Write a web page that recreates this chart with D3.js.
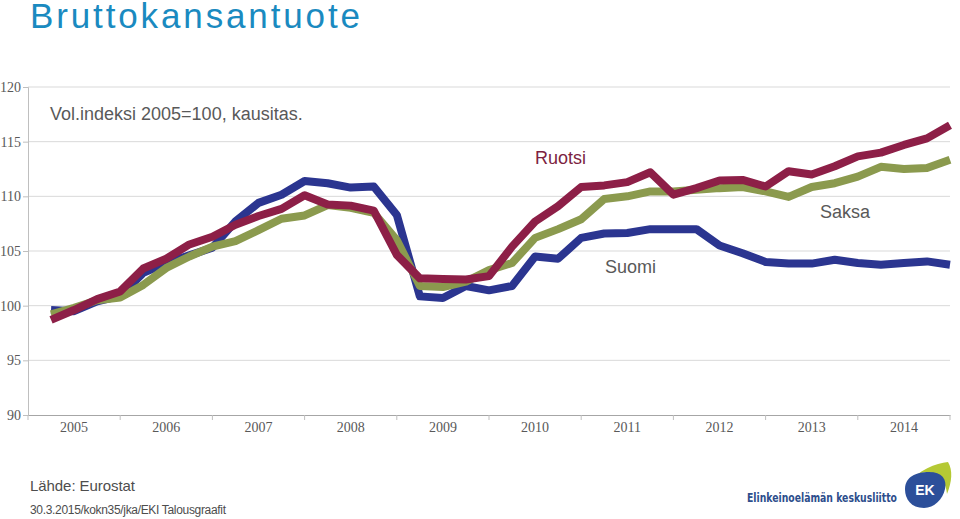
<html>
<head>
<meta charset="utf-8">
<script src="https://d3js.org/d3.v7.min.js"></script>
<style>
  body { margin: 0; background: #fff; }
  svg { display: block; }
</style>
</head>
<body>
<svg width="960" height="519"></svg>
<script>
// data, quarterly 2005Q1 - 2014Q4
var years = ["2005","2006","2007","2008","2009","2010","2011","2012","2013","2014"];
var yTicks = [90, 95, 100, 105, 110, 115, 120];
var suomi = [99.6, 99.5, 100.4, 100.9, 103.0, 103.9, 104.6, 105.3, 107.7, 109.4,
             110.15, 111.4, 111.2, 110.8, 110.9, 108.3, 100.85, 100.7, 101.8, 101.4,
             101.8, 104.5, 104.3, 106.2, 106.6, 106.65, 107.0, 107.0, 107.0, 105.5,
             104.8, 104.0, 103.85, 103.85, 104.2, 103.9, 103.75, 103.9, 104.05, 103.75];
var ruotsi = [98.7, 99.6, 100.6, 101.3, 103.4, 104.3, 105.6, 106.3, 107.4, 108.2,
              108.85, 110.1, 109.25, 109.15, 108.7, 104.65, 102.5, 102.45, 102.4, 102.7,
              105.4, 107.7, 109.1, 110.85, 111.0, 111.3, 112.2, 110.15, 110.75, 111.45,
              111.5, 110.9, 112.3, 112.0, 112.75, 113.65, 114.0, 114.7, 115.3, 116.5];
var saksa = [99.2, 99.8, 100.5, 100.75, 101.9, 103.45, 104.5, 105.4, 105.9, 106.9,
             107.95, 108.25, 109.2, 108.95, 108.5, 106.0, 101.8, 101.7, 102.2, 103.25,
             103.9, 106.2, 107.0, 107.9, 109.75, 110.0, 110.45, 110.45, 110.6, 110.75,
             110.85, 110.45, 109.95, 110.85, 111.2, 111.8, 112.7, 112.5, 112.6, 113.35];

var svg = d3.select("svg");
var marge = {left: 28, right: 950, top: 87, bottom: 415};

var xBand = d3.scaleBand().domain(years).range([marge.left, marge.right]);
var x = d3.scaleLinear().domain([0, suomi.length]).range([marge.left, marge.right]);
var y = d3.scaleLinear().domain([90, 120]).range([marge.bottom, marge.top]);

// title
svg.append("text")
    .attr("x", 30).attr("y", 28)
    .attr("font-family", "Liberation Sans, Arial, sans-serif")
    .attr("font-size", 35)
    .attr("fill", "#1a8ac0")
    .attr("textLength", 330).attr("lengthAdjust", "spacing")
    .text("Bruttokansantuote");

// gridlines
svg.append("g").selectAll("line")
    .data(yTicks.filter(function(d){ return d > 90; }))
    .enter().append("line")
    .attr("x1", marge.left).attr("x2", marge.right)
    .attr("y1", function(d){ return y(d); })
    .attr("y2", function(d){ return y(d); })
    .attr("stroke", "#d9d9d9").attr("stroke-width", 1);

// y axis
var yAxis = d3.axisLeft(y).tickValues(yTicks).tickSize(5).tickPadding(2);
var gy = svg.append("g").attr("transform", "translate(" + marge.left + ",0)").call(yAxis);
gy.select(".domain").attr("stroke", "#bfbfbf");
gy.selectAll(".tick line").attr("stroke", "#bfbfbf");
gy.selectAll("text")
    .attr("font-family", "Liberation Serif, Times New Roman, serif")
    .attr("font-size", 14).attr("fill", "#595959");

// x axis
var xAxis = d3.axisBottom(xBand).tickSize(0).tickPadding(7);
var gx = svg.append("g").attr("transform", "translate(0," + marge.bottom + ")").call(xAxis);
gx.select(".domain").attr("stroke", "#a6a6a6");
gx.selectAll("text")
    .attr("font-family", "Liberation Serif, Times New Roman, serif")
    .attr("font-size", 14).attr("fill", "#595959");
// tick marks between years
svg.append("g").selectAll("line")
    .data(d3.range(years.length + 1))
    .enter().append("line")
    .attr("x1", function(i){ return x(i * 4); })
    .attr("x2", function(i){ return x(i * 4); })
    .attr("y1", marge.bottom).attr("y2", marge.bottom + 5)
    .attr("stroke", "#bfbfbf");

// lines
var line = d3.line()
    .x(function(d, i){ return x(i + 1); })
    .y(function(d){ return y(d); });

var series = [
  {name: "Suomi", values: suomi, color: "#2b3590"},
  {name: "Saksa", values: saksa, color: "#8b9a4e"},
  {name: "Ruotsi", values: ruotsi, color: "#8d1f47"}
];
svg.append("g").selectAll("path")
    .data(series)
    .enter().append("path")
    .attr("d", function(s){ return line(s.values); })
    .attr("fill", "none")
    .attr("stroke", function(s){ return s.color; })
    .attr("stroke-width", 8)
    .attr("stroke-linejoin", "round");

// annotations
var sans = "Liberation Sans, Arial, sans-serif";
svg.append("text").attr("x", 50).attr("y", 120)
    .attr("font-family", sans).attr("font-size", 18).attr("fill", "#595959")
    .text("Vol.indeksi 2005=100, kausitas.");
svg.append("text").attr("x", 535).attr("y", 164)
    .attr("font-family", sans).attr("font-size", 18).attr("fill", "#7d1f42")
    .text("Ruotsi");
svg.append("text").attr("x", 605).attr("y", 273)
    .attr("font-family", sans).attr("font-size", 18).attr("fill", "#595959")
    .text("Suomi");
svg.append("text").attr("x", 820).attr("y", 218)
    .attr("font-family", sans).attr("font-size", 18).attr("fill", "#595959")
    .text("Saksa");

// footer
svg.append("text").attr("x", 30).attr("y", 491)
    .attr("font-family", sans).attr("font-size", 15).attr("fill", "#4d4d4d")
    .attr("textLength", 105).attr("lengthAdjust", "spacing")
    .text("Lähde: Eurostat");
svg.append("text").attr("x", 30).attr("y", 514)
    .attr("font-family", sans).attr("font-size", 12).attr("fill", "#4d4d4d")
    .attr("textLength", 196).attr("lengthAdjust", "spacing")
    .text("30.3.2015/kokn35/jka/EKI Talousgraafit");

// logo
svg.append("text").attr("x", 747).attr("y", 502)
    .attr("font-family", "DejaVu Sans, sans-serif").attr("font-size", 12)
    .attr("font-weight", "bold").attr("fill", "#2d4e8c")
    .attr("textLength", 150).attr("lengthAdjust", "spacingAndGlyphs")
    .text("Elinkeinoelämän keskusliitto");
svg.append("path")
    .attr("d", "M908,484 C918,470 936,463 948,462 C953,470 952,482 947,494 C946,482 940,474 928,472 C920,472 912,476 908,484 Z")
    .attr("fill", "#b5c934");
svg.append("path")
    .attr("d", "M905,489 C905,477 916,472 929,472 C942,472 947,479 945,489 C943,499 934,508 924,508 C911,508 905,499 905,489 Z")
    .attr("fill", "#2c4f9a");
svg.append("text").attr("x", 925).attr("y", 495)
    .attr("text-anchor", "middle")
    .attr("font-family", sans).attr("font-size", 14).attr("font-weight", "bold")
    .attr("fill", "#fff")
    .text("EK");
</script>
</body>
</html>
